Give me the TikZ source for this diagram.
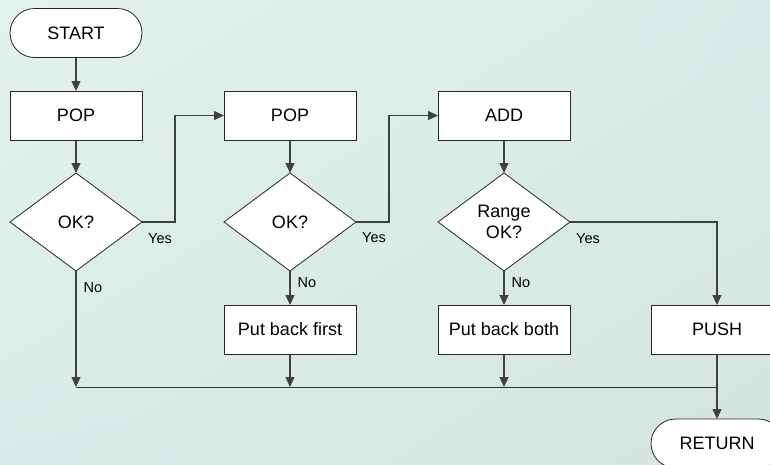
\documentclass[tikz,border=0pt]{standalone}
\usepackage{fontspec}
\setmainfont{Liberation Sans}
\usetikzlibrary{shapes.geometric,arrows.meta,shadings}
\definecolor{bgA}{HTML}{E4F2EF}
\definecolor{bgB}{HTML}{D9EBE8}
\definecolor{bgC}{HTML}{D6E4E1}
\definecolor{linec}{HTML}{404040}
\begin{document}
\begin{tikzpicture}[x=1pt,y=-1pt,
  base/.style={draw=black!85,fill=white,line width=0.8pt,inner sep=0pt,outer sep=0pt,
    font=\fontsize{18}{21.5}\selectfont,align=center},
  procbox/.style={base,rectangle,minimum width=132pt,minimum height=49pt},
  termbox/.style={base,rectangle,rounded corners=24.5pt,minimum width=132pt,minimum height=49pt},
  decbox/.style={base,diamond,aspect=1.347,minimum width=132pt,minimum height=98pt},
  conn/.style={draw=linec,line width=1.1pt,-{Triangle[length=10pt,width=9pt]}},
  plain/.style={draw=linec,line width=1.1pt},
  bus/.style={draw=black!80,line width=0.8pt},
  lbl/.style={font=\fontsize{14.5}{16}\selectfont,inner sep=0pt}]
\useasboundingbox (0,0) rectangle (770,464);
\clip (0,0) rectangle (770,464);
\shade[upper left=bgA,upper right=bgB,lower left=bgB,lower right=bgC] (0,0) rectangle (770,464);

\node[termbox] (start) at (76,33) {START};
\node[procbox] (pop1) at (76,115.5) {POP};
\node[decbox] (d1) at (76,222) {OK?};
\node[procbox] (pop2) at (290,115.5) {POP};
\node[decbox] (d2) at (290,222) {OK?};
\node[procbox] (add) at (504,115.5) {ADD};
\node[decbox] (d3) at (504,222) {Range\\OK?};
\node[procbox] (pbf) at (290,329.5) {Put back first};
\node[procbox] (pbb) at (504,329.5) {Put back both};
\node[procbox] (push) at (717,329.5) {PUSH};
\node[termbox] (ret) at (717,443.5) {RETURN};

\node[lbl] (y1) at (160,239) {Yes};
\node[lbl] (n1) at (93,288) {No};
\node[lbl] (y2) at (374,238) {Yes};
\node[lbl] (n2) at (307,283) {No};
\node[lbl] (y3) at (588,239) {Yes};
\node[lbl] (n3) at (521,283) {No};

\coordinate (k1) at (175,222);
\coordinate (k2) at (389,222);
\coordinate (b1) at (76,387);
\coordinate (b2) at (290,387);
\coordinate (b3) at (504,387);
\coordinate (bj) at (717,387);

\draw[conn] (start) -- (pop1);
\draw[conn] (pop1) -- (d1);
\draw[conn] (d1.east) -- (k1) |- (pop2.west);
\draw[conn] (pop2) -- (d2);
\draw[conn] (d2.east) -- (k2) |- (add.west);
\draw[conn] (add) -- (d3);
\draw[conn] (d3.east) -| (push.north);
\draw[conn] (d2.south) -- (pbf.north);
\draw[conn] (d3.south) -- (pbb.north);
\draw[conn] (d1.south) -- (b1);
\draw[conn] (pbf.south) -- (b2);
\draw[conn] (pbb.south) -- (b3);
\draw[bus] (b1) -- (bj);
\draw[conn] (push.south) -- (ret.north);
\end{tikzpicture}
\end{document}
